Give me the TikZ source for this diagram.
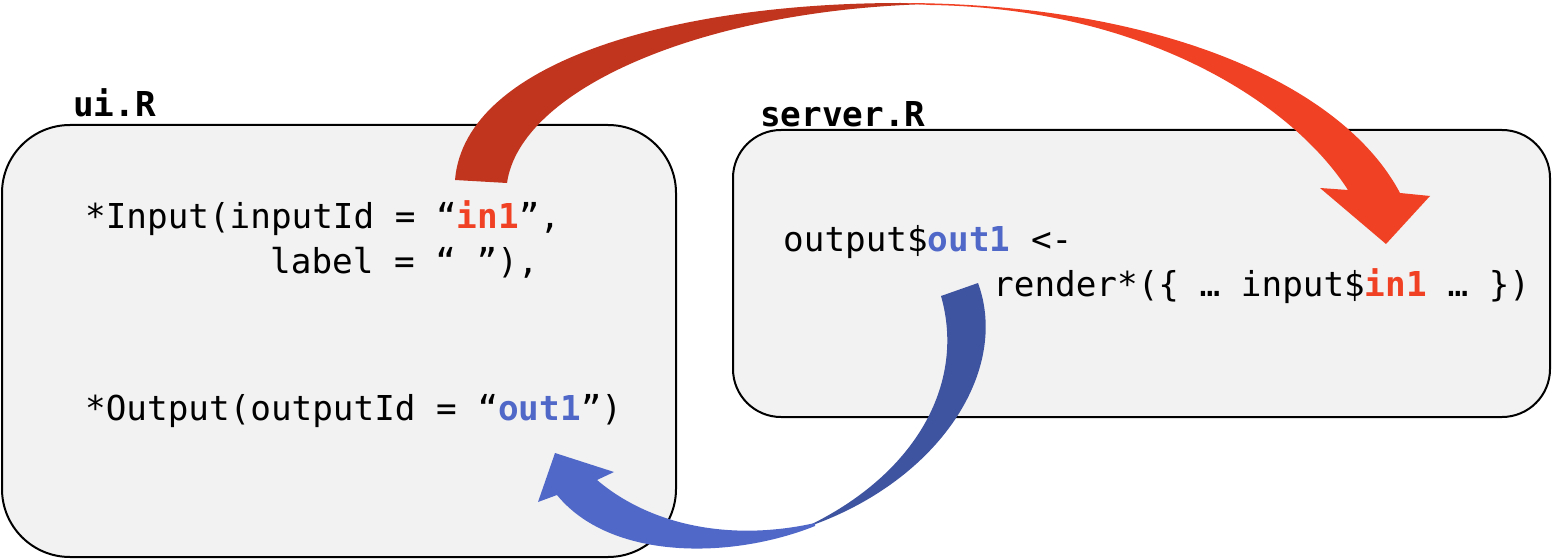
\documentclass[tikz,border=0pt]{standalone}
\usepackage{fontspec}
\setmonofont{DejaVu Sans Mono}

\definecolor{inred}{HTML}{F04124}
\definecolor{inreddark}{HTML}{C1351F}
\definecolor{outblue}{HTML}{5068C8}
\definecolor{outbluedark}{HTML}{3F54A0}
\definecolor{boxgray}{HTML}{F2F2F2}

\tikzset{
    codebox/.style={draw=black, fill=boxgray, line width=2pt, inner sep=0pt},
    code/.style={anchor=base west, inner sep=0pt, font=\ttfamily\fontsize{34.3}{41}\selectfont},
    fname/.style={code, font=\ttfamily\bfseries\fontsize{34.3}{41}\selectfont},
}
\newcommand{\inid}{\textcolor{inred}{\textbf{in1}}}
\newcommand{\outid}{\textcolor{outblue}{\textbf{out1}}}

\begin{document}
\begin{tikzpicture}[x=1pt, y=-1pt]
        \useasboundingbox (0,0) rectangle (1552,559);
        \node[codebox, rounded corners=68pt, minimum width=674pt, minimum height=432pt] (ui) at (339,341) {};
        \node[codebox, rounded corners=48pt, minimum width=817pt, minimum height=287pt] (server) at (1141.5,273.5) {};
        \node[fname] (uiname) at (73,117) {ui.R};
        \node[fname] (servername) at (760,127) {server.R};
        \node[code] (inputline) at (85,228) {*Input(inputId = “\inid”,};
        \node[code] (labelline) at (270,273) {label = “ ”),};
        \node[code] (outputline) at (85,420) {*Output(outputId = “\outid”)};
        \node[code] (assignline) at (783,251) {output\$\outid{} <-};
        \node[code] (renderline) at (993,296) {render*(\{ … input\$\inid{} … \})};
        \coordinate (in1tail) at (455,180);
        \coordinate (in1tip) at (1386,244);
        \coordinate (out1tail) at (978,283);
        \coordinate (out1tip) at (555,453);
        \fill[inreddark] (in1tail) .. controls (465,60) and (680,3) .. (900,3) -- (930,4)
            .. controls (700,10) and (520,90) .. (507,183) -- cycle;
        \fill[inred] (900,3) .. controls (1150,3) and (1340,80) .. (1400,193)
            -- (1430,196) -- (in1tip) -- (1320,188) -- (1348,190)
            .. controls (1290,100) and (1140,8) .. (930,5) -- cycle;
        \fill[outbluedark] (out1tail) .. controls (1010,370) and (940,480) .. (810,526)
            -- (812,524) .. controls (920,470) and (965,380) .. (941,296) -- cycle;
        \fill[outblue] (815,523) .. controls (730,542) and (650,525) .. (597,480)
            -- (614,472) -- (out1tip) -- (538,502) -- (557,495)
            .. controls (610,560) and (730,560) .. (815,526) -- cycle;
\end{tikzpicture}
\end{document}
